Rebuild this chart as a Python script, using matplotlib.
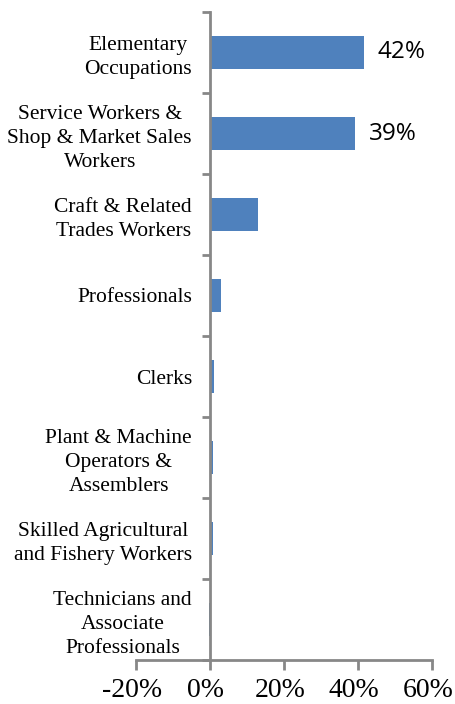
import matplotlib.pyplot as plt
import matplotlib.transforms as mtransforms
from matplotlib.ticker import FixedLocator, FuncFormatter

# 職業別の割合 (上から順)
occupations = ['Elementary\nOccupations',
               'Service Workers &\nShop & Market Sales\nWorkers',
               'Craft & Related\nTrades Workers',
               'Professionals',
               'Clerks',
               'Plant & Machine\nOperators &\nAssemblers',
               'Skilled Agricultural\nand Fishery Workers',
               'Technicians and\nAssociate\nProfessionals']
share = [41.6, 39.2, 13.0, 3.1, 1.1, 0.8, 0.7, -0.4]
labels = ['42%', '39%', '', '', '', '', '', '']

axis_grey = '#878787'
bar_blue = '#4f81bd'

fig = plt.figure(figsize=(4.55, 7.04), dpi=100)
ax = fig.add_axes([136 / 455, 1 - 660 / 704, 296 / 455, 648 / 704])

pos = list(range(len(share)))
ax.barh(pos, share, height=0.4, color=bar_blue)
ax.invert_yaxis()
ax.set_ylim(len(share) - 0.5, -0.5)
ax.set_xlim(-20, 60)

for y, v, t in zip(pos, share, labels):
    if t:
        ax.annotate(t, (v, y), xytext=(10, 0), textcoords='offset points',
                    va='center', ha='left', fontsize=17.5, family='Open Sans')

# 軸の見た目
for s in ['top', 'right']:
    ax.spines[s].set_visible(False)
ax.spines['left'].set_position(('data', 0))
ax.spines['left'].set_color(axis_grey)
ax.spines['bottom'].set_color(axis_grey)
ax.spines['left'].set_linewidth(2)
ax.spines['bottom'].set_linewidth(2)

ax.set_xticks([-20, 0, 20, 40, 60])
ax.xaxis.set_major_formatter(FuncFormatter(lambda x, p: '%d%%' % x))
ax.tick_params(axis='x', direction='out', length=7, width=2, color=axis_grey,
               labelsize=20, pad=6)
shift = mtransforms.ScaledTranslation(-4 / 100, 0, fig.dpi_scale_trans)
for t in ax.get_xticklabels():
    t.set_family('Liberation Serif')
    t.set_transform(t.get_transform() + shift)

ax.set_yticks(pos)
ax.set_yticklabels(occupations, family='Liberation Serif', fontsize=15.5,
                   ha='right', multialignment='center', linespacing=1.35)
ax.yaxis.set_minor_locator(FixedLocator([p - 0.5 for p in range(len(share) + 1)]))
ax.tick_params(axis='y', which='major', length=0, pad=13)
ax.tick_params(axis='y', which='minor', direction='out', length=6, width=2,
               color=axis_grey)

fig.savefig('out.png', dpi=100)
